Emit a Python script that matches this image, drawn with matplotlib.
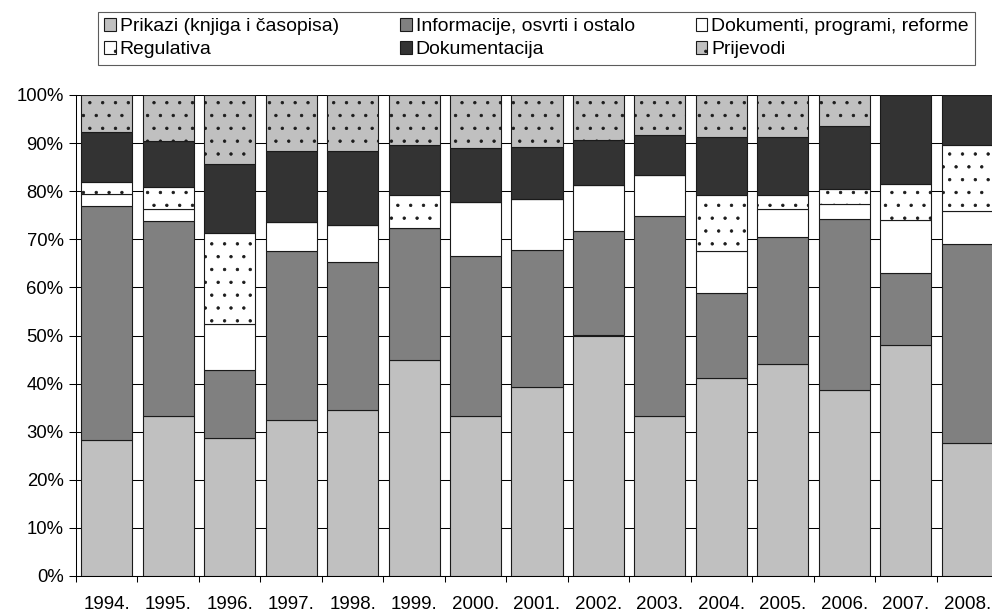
import numpy as np
import matplotlib.pyplot as plt
from matplotlib.ticker import FixedLocator, PercentFormatter

# hatch spacing depends on dpi, so draw at 77 dpi and scale sizes back up
DPI = 77
k = 100 / DPI

plt.rcParams['font.family'] = ['Liberation Sans', 'DejaVu Sans']
plt.rcParams['hatch.linewidth'] = 0.55 * k
plt.rcParams['hatch.color'] = '#333333'

years = ['1994.', '1995.', '1996.', '1997.', '1998.', '1999.', '2000.', '2001.',
         '2002.', '2003.', '2004.', '2005.', '2006.', '2007.', '2008.']

prikazi = [28.2, 33.3, 28.6, 32.4, 34.6, 44.9, 33.3, 39.2, 50.0, 33.3, 41.2, 44.1, 38.7, 48.1, 27.6]
informacije = [48.8, 40.5, 14.3, 35.2, 30.7, 27.4, 33.2, 28.6, 21.8, 41.6, 17.6, 26.4, 35.5, 14.8, 41.4]
dokumenti = [2.5, 2.4, 9.5, 5.9, 7.7, 0.0, 11.2, 10.6, 9.4, 8.4, 8.8, 5.9, 3.2, 11.1, 6.9]
regulativa = [2.5, 4.7, 19.0, 0.0, 0.0, 6.9, 0.0, 0.0, 0.0, 0.0, 11.6, 2.8, 3.1, 7.4, 13.7]
dokumentacija = [10.3, 9.6, 14.3, 14.9, 15.4, 10.4, 11.2, 10.7, 9.4, 8.4, 12.0, 12.0, 13.1, 18.6, 10.4]
prijevodi = [7.7, 9.5, 14.3, 11.6, 11.6, 10.4, 11.1, 10.9, 9.4, 8.3, 8.8, 8.8, 6.4, 0.0, 0.0]

series = [
    ('Prikazi (knjiga i časopisa)', prikazi, '#c0c0c0', None),
    ('Informacije, osvrti i ostalo', informacije, '#808080', None),
    ('Dokumenti, programi, reforme', dokumenti, 'white', None),
    ('Regulativa', regulativa, 'white', '.'),
    ('Dokumentacija', dokumentacija, '#333333', None),
    ('Prijevodi', prijevodi, '#c0c0c0', '.'),
]

fig = plt.figure(figsize=(992 / DPI, 614 / DPI), dpi=DPI)
# the last category runs a little past the right edge, as in the original
ax = fig.add_axes([76/992, 1-576/614, 922/992, (576-95)/614])

x = np.arange(len(years))
bottom = np.zeros(len(years))
handles = {}
for name, vals, col, hatch in series:
    vals = np.array(vals)
    b = ax.bar(x, vals, 0.83, bottom=bottom, color=col, hatch=hatch,
               edgecolor='#1a1a1a', linewidth=0.8 * k, label=name, zorder=3)
    handles[name] = b
    bottom = bottom + vals

ax.set_xlim(-0.5, len(years) - 0.5)
ax.set_ylim(0, 100)
ax.yaxis.set_major_locator(FixedLocator(np.arange(0, 101, 10)))
ax.yaxis.set_major_formatter(PercentFormatter(decimals=0))
ax.grid(axis='y', color='black', linewidth=0.75 * k, zorder=0)
ax.set_axisbelow(True)

ax.set_xticks(x)
ax.set_xticklabels(years)
ax.set_xticks(np.arange(-0.5, len(years)), minor=True)
ax.tick_params(axis='x', which='major', length=0, pad=14.5 * k, labelsize=13.5 * k)
ax.tick_params(axis='x', which='minor', length=4.5 * k, width=0.75 * k)
ax.tick_params(axis='y', length=5 * k, width=0.75 * k, labelsize=13.3 * k, pad=4 * k)

for s in ['top', 'right']:
    ax.spines[s].set_visible(False)
ax.spines['left'].set_linewidth(0.75 * k)
ax.spines['bottom'].set_linewidth(0.75 * k)

order = ['Prikazi (knjiga i časopisa)', 'Regulativa', 'Informacije, osvrti i ostalo',
         'Dokumentacija', 'Dokumenti, programi, reforme', 'Prijevodi']
leg = fig.legend([handles[n] for n in order], order, ncol=3, mode='expand',
                 loc='upper left', bbox_to_anchor=(98/992, 1-67/614, 877/992, 55/614),
                 fontsize=14 * k, frameon=True, fancybox=False, borderpad=0.32,
                 handlelength=0.6, handleheight=0.6, handletextpad=0.2,
                 labelspacing=0.32, borderaxespad=0)
leg.get_frame().set_edgecolor('#333333')
leg.get_frame().set_linewidth(0.8 * k)

fig.savefig('out.png', dpi=DPI)
